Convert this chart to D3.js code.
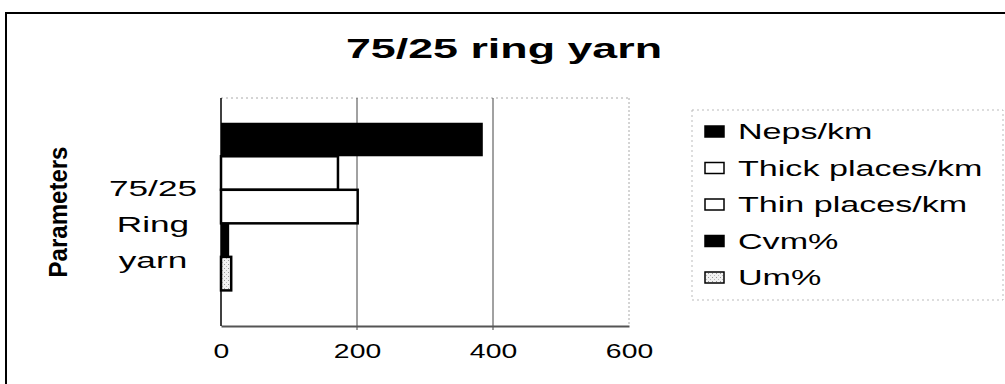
<!DOCTYPE html>
<html>
<head>
<meta charset="utf-8">
<script src="https://cdn.jsdelivr.net/npm/d3@7"></script>
<style>
  body { margin: 0; background: #fff; }
  svg { display: block; font-family: "Liberation Sans", Arial, sans-serif; }
</style>
</head>
<body>
<div id="chart"></div>
<script>
// chart data
var title = "75/25 ring yarn";
var categories = ["75/25 Ring yarn"];
var categoryLines = ["75/25", "Ring", "yarn"];
var series = ["Neps/km", "Thick places/km", "Thin places/km", "Cvm%", "Um%"];
var values = [385, 172, 201, 12, 15];
var xTicks = [0, 200, 400, 600];
var yTitle = "Parameters";

var W = 1005, H = 384;
var plot = { left: 221, right: 629, top: 98, bottom: 326 };

var svg = d3.select("#chart").append("svg")
  .attr("width", W)
  .attr("height", H);

var defs = svg.append("defs");
var pat = defs.append("pattern")
  .attr("id", "dots")
  .attr("width", 4).attr("height", 4)
  .attr("patternUnits", "userSpaceOnUse");
pat.append("rect").attr("width", 4).attr("height", 4).attr("fill", "#f2f2f2");
pat.append("rect").attr("x", 0).attr("y", 0).attr("width", 1).attr("height", 1).attr("fill", "#999");
pat.append("rect").attr("x", 2).attr("y", 2).attr("width", 1).attr("height", 1).attr("fill", "#bbb");

var fills = ["#000", "#fff", "#fff", "#000", "url(#dots)"];
var strokes = [0, 2.5, 2.5, 0, 2.5];

// outer frame
svg.append("rect")
  .attr("x", 6).attr("y", 13)
  .attr("width", 1100).attr("height", 500)
  .attr("fill", "none")
  .attr("stroke", "#000")
  .attr("stroke-width", 2);

// the reference looks stretched sideways, so text is widened with scale(k,1)
function wideText(parent, x, y, str, size, weight, anchor, k) {
  var g = parent.append("g")
    .attr("transform", "translate(" + x + "," + y + ") scale(" + k + ",1)");
  return g.append("text")
    .attr("text-anchor", anchor || "start")
    .attr("font-size", size)
    .attr("font-weight", weight || "normal")
    .attr("fill", "#000")
    .text(str);
}

// title
wideText(svg, 504, 58, title, 28, "bold", "middle", 1.6);

var x = d3.scaleLinear().domain([0, 600]).range([plot.left, plot.right]);
var yCat = d3.scaleBand().domain(categories)
  .range([plot.top, plot.bottom])
  .paddingInner(0).paddingOuter(0.18).align(0.41);
var ySer = d3.scaleBand().domain(series)
  .range([0, yCat.bandwidth()]);

// plot border (light dotted top/right)
svg.append("line")
  .attr("x1", plot.left).attr("x2", plot.right)
  .attr("y1", plot.top).attr("y2", plot.top)
  .attr("stroke", "#aaa").attr("stroke-dasharray", "2,3");
svg.append("line")
  .attr("x1", plot.right).attr("x2", plot.right)
  .attr("y1", plot.top).attr("y2", plot.bottom)
  .attr("stroke", "#aaa").attr("stroke-dasharray", "2,2");

// gridlines
svg.append("g")
  .selectAll("line")
  .data(xTicks.filter(function (d) { return d > 0 && d < 600; }))
  .enter().append("line")
  .attr("x1", function (d) { return x(d); })
  .attr("x2", function (d) { return x(d); })
  .attr("y1", plot.top).attr("y2", plot.bottom + 4)
  .attr("stroke", "#444").attr("stroke-width", 1);

// bars
var cat = categories[0];
svg.append("g")
  .selectAll("rect")
  .data(values)
  .enter().append("rect")
  .attr("x", x(0))
  .attr("y", function (d, i) { return yCat(cat) + ySer(series[i]); })
  .attr("width", function (d) { return x(d) - x(0); })
  .attr("height", ySer.bandwidth())
  .attr("fill", function (d, i) { return fills[i]; })
  .attr("stroke", function (d, i) { return strokes[i] ? "#000" : "none"; })
  .attr("stroke-width", function (d, i) { return strokes[i]; });

// x axis
var xAxis = svg.append("g")
  .attr("transform", "translate(0," + plot.bottom + ")")
  .call(d3.axisBottom(x).tickValues(xTicks).tickSize(0).tickPadding(0));
xAxis.select(".domain").attr("stroke", "#555").attr("stroke-width", 2);
xAxis.selectAll("text")
  .attr("y", 32)
  .attr("dy", 0)
  .attr("font-size", 21)
  .attr("font-family", "Liberation Sans, Arial, sans-serif")
  .attr("fill", "#000")
  .attr("transform", "scale(1.35,1)");

// y axis line
svg.append("line")
  .attr("x1", plot.left).attr("x2", plot.left)
  .attr("y1", plot.top).attr("y2", plot.bottom)
  .attr("stroke", "#000").attr("stroke-width", 1.5);

// category label
var catMid = yCat(cat) + yCat.bandwidth() / 2;
categoryLines.forEach(function (s, i) {
  wideText(svg, 153, catMid + 25 + (i - 1) * 36, s, 22, "normal", "middle", 1.6);
});

// y title (rotated)
svg.append("text")
  .attr("transform", "translate(67,212) rotate(-90)")
  .attr("text-anchor", "middle")
  .attr("font-size", 25)
  .attr("font-weight", "bold")
  .attr("textLength", 131)
  .attr("lengthAdjust", "spacingAndGlyphs")
  .text(yTitle);

// legend
var legend = svg.append("g");
legend.append("rect")
  .attr("x", 692).attr("y", 110)
  .attr("width", 311).attr("height", 190)
  .attr("fill", "none")
  .attr("stroke", "#bbb")
  .attr("stroke-dasharray", "2,3");

var item = legend.selectAll("g.item")
  .data(series)
  .enter().append("g")
  .attr("class", "item")
  .attr("transform", function (d, i) { return "translate(704," + (131 + i * 36.5) + ")"; });
item.append("rect")
  .attr("x", 1).attr("y", -5)
  .attr("width", 19).attr("height", 11)
  .attr("fill", function (d, i) { return fills[i]; })
  .attr("stroke", "#000")
  .attr("stroke-width", 1.5);
item.each(function (d) {
  wideText(d3.select(this), 34, 8, d, 22, "normal", "start", 1.55);
});
</script>
</body>
</html>
